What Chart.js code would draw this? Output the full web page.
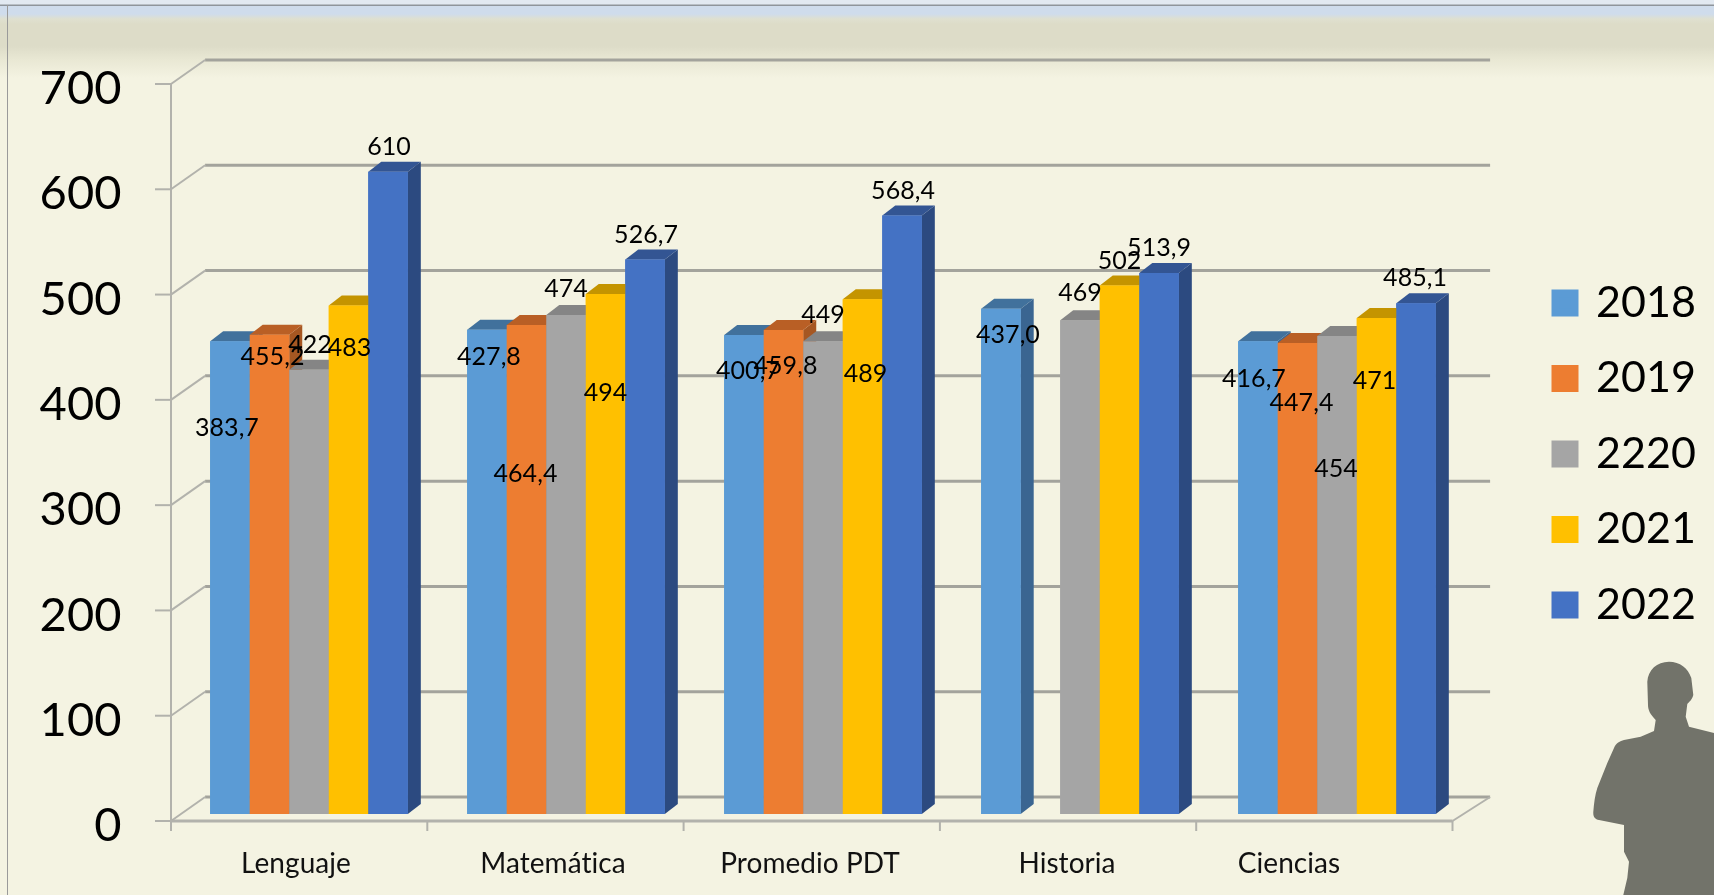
<!DOCTYPE html>
<html>
<head>
<meta charset="utf-8">
<script src="https://cdn.jsdelivr.net/npm/chart.js@4"></script>
<style>
html,body{margin:0;padding:0;width:1714px;height:895px;overflow:hidden;background:#f4f3e2}
#bg{position:absolute;left:0;top:0;width:1714px;height:100px;
background:linear-gradient(to bottom,#e2e9f1 0,#e2e9f1 4px,#8f959b 5px,#8f959b 6px,#cfdcec 6px,#cfdcec 14px,#dfe0d0 19px,#dddcc8 24px,#dddcc8 46px,#e9e8d4 60px,#f4f3e2 78px)}
#edge{position:absolute;left:7px;top:5px;width:1px;height:890px;background:#9a9a9a}
#person{position:absolute;left:0;top:0}
canvas{position:absolute;left:0;top:0;filter:blur(0.4px)}
</style>
</head>
<body>
<div id="bg"></div>
<div id="edge"></div>
<svg id="person" width="1714" height="895"><path fill="#72736a" d="M1669 661.7 C1680 661.7 1688 668 1691.3 678 L1693.3 695 C1692 700 1689 702 1687.3 704 L1685.7 716.7 L1689 726.7 L1714 733 L1714 895 L1623.3 895 L1627.3 878 L1629 861.7 L1624 851.7 L1624 825 L1599 820 C1595 819 1593 817 1593.3 812 C1594 803 1595 795 1597.3 788 L1607.3 763 L1614 748 C1616 743 1620 741 1624 740 L1640.7 736.7 L1654 731 L1655.7 720 C1650 714 1648 710 1648 705 L1647.3 681.7 C1648 670 1657 661.7 1669 661.7 Z"/></svg>
<canvas id="c" width="1714" height="895"></canvas>
<script>
const categories = ['Lenguaje', 'Matemática', 'Promedio PDT', 'Historia', 'Ciencias'];
const yTicks = [0, 100, 200, 300, 400, 500, 600, 700];

const seriesNames = ['2018', '2019', '2220', '2021', '2022'];
const seriesColors = ['#5b9bd5', '#ed7d31', '#a5a5a5', '#ffc000', '#4472c4'];
const seriesSides = ['#3a6591', '#a65722', '#737373', '#b38600', '#2c4a80'];
const seriesTops = ['#41719c', '#b95f25', '#858585', '#c49400', '#335593'];

// Bar heights
const values2018 = [449, 460, 455, 480, 449];
const values2019 = [455.2, 464.4, 459.8, null, 447.4];
const values2220 = [422, 474, 449, 469, 454];
const values2021 = [483, 494, 489, 502, 471];
const values2022 = [610, 526.7, 568.4, 513.9, 485.1];

// Printed data labels
const labels2018 = ['383,7', '427,8', '400,7', '437,0', '416,7'];
const labels2019 = ['455,2', '464,4', '459,8', null, '447,4'];
const labels2220 = ['422', '474', '449', '469', '454'];
const labels2021 = ['483', '494', '489', '502', '471'];
const labels2022 = ['610', '526,7', '568,4', '513,9', '485,1'];

// Label placement relative to the top-centre of each bar
const labelDx = [[-3, 2, 4, 7, -4], [3, -1, 2, 0, 4], [1, 0, 0, 0, -1], [1, 0, 3, 0, -2], [1, 1, 1, 0, -1]];
const labelDy = [[87, 27, 36, 26, 38], [22, 149, 36, 0, 60], [-25, -26, -26, -27, 133], [42, 99, 75, -25, 63], [-25, -25, -25, -25, -25]];

const allValues = [values2018, values2019, values2220, values2021, values2022];
const allLabels = [labels2018, labels2019, labels2220, labels2021, labels2022];

const FONT = 'Lato, Carlito, "Open Sans", sans-serif';
const DEPTH_X = 13, DEPTH_Y = 10;
const FRONT = { dx: -9.5, dy: 7 };
const BACK = { dx: 24.6, dy: -17 };
const GRID_COLOR = '#a3a39c', AXIS_COLOR = '#b2b2ac';

function seg(ctx, x1, y1, x2, y2, color, w) {
  ctx.beginPath(); ctx.strokeStyle = color; ctx.lineWidth = w;
  ctx.moveTo(x1, y1); ctx.lineTo(x2, y2); ctx.stroke();
}
function poly(ctx, pts, color) {
  ctx.beginPath(); ctx.fillStyle = color;
  pts.forEach((p, i) => i ? ctx.lineTo(p[0], p[1]) : ctx.moveTo(p[0], p[1]));
  ctx.closePath(); ctx.fill();
}

const frame3d = {
  id: 'frame3d',
  beforeDatasetsDraw(chart) {
    const { ctx, chartArea: a, scales: { y } } = chart;
    ctx.save();
    const fl = a.left + FRONT.dx, fr = a.right + FRONT.dx - 3.5;
    const bl = a.left + BACK.dx, br = a.right + BACK.dx;
    yTicks.forEach(v => {
      const p = y.getPixelForValue(v);
      seg(ctx, bl, p + BACK.dy, br, p + BACK.dy, GRID_COLOR, 3);
      seg(ctx, fl, p + FRONT.dy, bl, p + BACK.dy, AXIS_COLOR, 2);
      seg(ctx, fl - 16, p + FRONT.dy, fl, p + FRONT.dy, AXIS_COLOR, 2);
    });
    const p0 = y.getPixelForValue(0);
    seg(ctx, fl, y.getPixelForValue(700) + FRONT.dy, fl, p0 + FRONT.dy + 10, AXIS_COLOR, 2);
    seg(ctx, fl, p0 + FRONT.dy, fr, p0 + FRONT.dy, AXIS_COLOR, 3);
    seg(ctx, fr, p0 + FRONT.dy, br, p0 + BACK.dy, AXIS_COLOR, 2);
    const step = (fr - fl) / categories.length;
    categories.concat(['']).forEach((c, i) => {
      const tx = fl + step * i;
      seg(ctx, tx, p0 + FRONT.dy, tx, p0 + FRONT.dy + 10, AXIS_COLOR, 2);
    });
    ctx.restore();
  },
  afterDatasetsDraw(chart) {
    const { ctx } = chart;
    ctx.save();
    chart.data.datasets.forEach((ds, i) => {
      chart.getDatasetMeta(i).data.forEach((bar, j) => {
        if (ds.data[j] == null) return;
        const p = bar.getProps(['x', 'y', 'base', 'width'], true);
        const x1 = p.x - p.width / 2, x2 = p.x + p.width / 2;
        poly(ctx, [[x2, p.y], [x2 + DEPTH_X, p.y - DEPTH_Y], [x2 + DEPTH_X, p.base - DEPTH_Y], [x2, p.base]], seriesSides[i]);
        poly(ctx, [[x1, p.y], [x1 + DEPTH_X, p.y - DEPTH_Y], [x2 + DEPTH_X, p.y - DEPTH_Y], [x2, p.y]], seriesTops[i]);
        bar.draw(ctx);
      });
    });
    ctx.fillStyle = '#000';
    ctx.font = '25px ' + FONT;
    ctx.textAlign = 'center';
    ctx.textBaseline = 'middle';
    chart.data.datasets.forEach((ds, i) => {
      chart.getDatasetMeta(i).data.forEach((bar, j) => {
        const txt = allLabels[i][j];
        if (txt == null) return;
        const p = bar.getProps(['x', 'y'], true);
        ctx.fillText(txt, p.x + labelDx[i][j], p.y + labelDy[i][j]);
      });
    });
    ctx.restore();
  },
  beforeDraw(chart) {
    // Spacing of a hair keeps "ti" from turning into a ligature
    chart.ctx.letterSpacing = '0.05px';
    // The last category label sits further left than the others in the reference
    const items = chart.scales.x.getLabelItems();
    if (items[4] && !items[4].moved) { items[4].options.translation[0] -= 35; items[4].moved = true; }
    // Legend block sits to the right of the plot
    const lg = chart.legend;
    lg.left = 1523; lg.right = 1714; lg.top = 249; lg.bottom = 680;
  }
};

const chart = new Chart(document.getElementById('c'), {
  type: 'bar',
  data: {
    labels: categories,
    datasets: seriesNames.map((name, i) => ({
      label: name,
      data: allValues[i],
      backgroundColor: seriesColors[i],
      borderWidth: 0
    }))
  },
  plugins: [frame3d],
  options: {
    responsive: false,
    animation: false,
    devicePixelRatio: 1,
    layout: { autoPadding: false, padding: { left: 0, right: 248.5, top: 77, bottom: 0 } },
    datasets: { bar: { barPercentage: 1, categoryPercentage: 0.769 } },
    scales: {
      x: {
        afterFit(s) { s.height = 81; s.paddingLeft = 0; s.paddingRight = 0; },
        grid: { display: false, drawTicks: false },
        border: { display: false },
        ticks: {
          color: '#111', font: { family: FONT, size: 28 }, padding: 33,
          labelOffset: -13, maxRotation: 0, autoSkip: false
        }
      },
      y: {
        min: 0, max: 700,
        afterFit(s) { s.width = 180.5; s.paddingTop = 0; s.paddingBottom = 0; },
        afterBuildTicks(s) { s.ticks = yTicks.map(v => ({ value: v })); },
        grid: { display: false, drawTicks: false },
        border: { display: false },
        ticks: {
          color: '#000', font: { family: FONT, size: 47 }, padding: 59, labelOffset: 12,
          autoSkip: false
        }
      }
    },
    plugins: {
      tooltip: { enabled: false },
      title: { display: false },
      legend: {
        display: true,
        position: 'chartArea',
        align: 'start',
        labels: {
          color: '#000',
          font: { family: FONT, size: 43 },
          boxWidth: 19, boxHeight: 19, padding: 32.5,
          generateLabels(ch) {
            return ch.data.datasets.map((d, i) => ({
              text: d.label, fillStyle: seriesColors[i], strokeStyle: seriesColors[i],
              lineWidth: 8, hidden: false, datasetIndex: i, fontColor: '#000'
            }));
          }
        }
      }
    }
  }
});
</script>
</body>
</html>
